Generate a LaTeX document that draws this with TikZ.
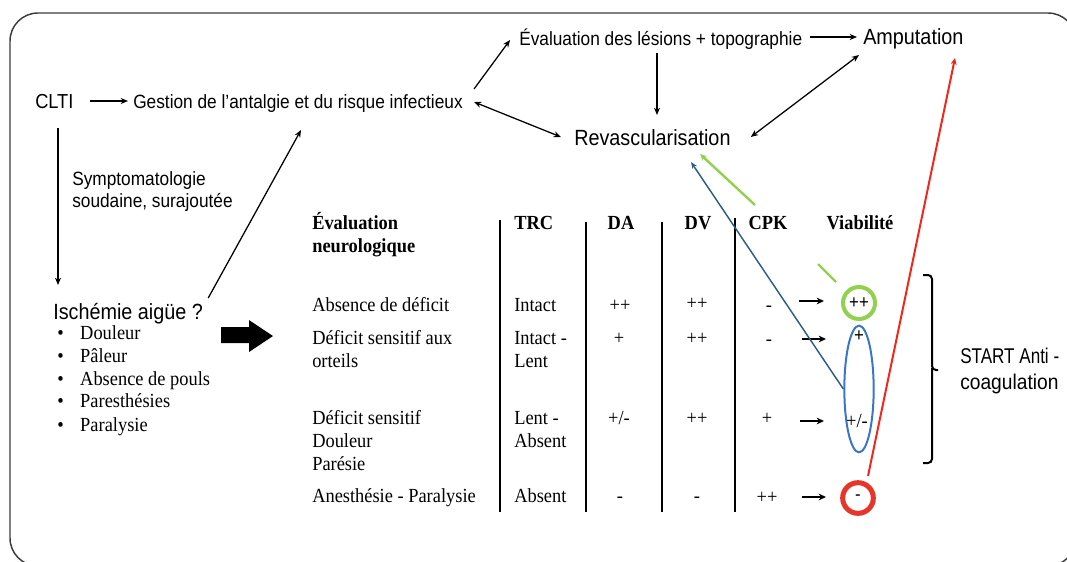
\documentclass[tikz,border=0pt]{standalone}
\usepackage{fontspec}
\setmainfont[FakeStretch=0.92]{Liberation Serif}
\newfontfamily\sansf[FakeStretch=0.9]{Liberation Sans}
\newfontfamily\sansn[FakeStretch=0.8]{Liberation Sans}
\usetikzlibrary{arrows.meta,calc,shapes.geometric}
\definecolor{vgreen}{HTML}{92D050}
\definecolor{vblue}{HTML}{3A76C4}
\definecolor{dblue}{HTML}{2F5D85}
\definecolor{vred}{HTML}{E8352A}
\definecolor{lred}{HTML}{F0281C}
\definecolor{framec}{HTML}{3C3C3C}
\begin{document}
\begin{tikzpicture}[x=0.75pt,y=-0.75pt,
 sa/.style={font=\sansf\fontsize{14.4}{17}\selectfont,inner sep=0pt,anchor=base west},
 sb/.style={font=\sansf\fontsize{16.5}{20}\selectfont,inner sep=0pt,anchor=base west},
 se/.style={font=\fontsize{15}{17}\selectfont,inner sep=0pt,anchor=base west},
 sc/.style={font=\fontsize{15}{17}\selectfont,inner sep=0pt,anchor=base},
 hd/.style={font=\bfseries\fontsize{15}{17}\selectfont,inner sep=0pt,anchor=base west},
 hc/.style={font=\bfseries\fontsize{15}{17}\selectfont,inner sep=0pt,anchor=base},
 arr/.style={line width=0.95pt,-{Stealth[length=5.5pt,width=4.5pt]}},
 darr/.style={line width=0.95pt,{Stealth[length=5.5pt,width=4.5pt]}-{Stealth[length=5.5pt,width=4.5pt]}},
 rarr/.style={line width=1.4pt,-{Stealth[length=5.5pt,width=5pt]}},
 sepl/.style={line width=1.5pt},
 inner/.style={font=\sansf\fontsize{14}{15}\selectfont,inner sep=0pt},
]
\useasboundingbox (0,0) rectangle (1067,561);
\begin{scope}
\clip (0,0) rectangle (1067,561);
\draw[framec,line width=1.1pt,rounded corners=21pt] (10,13) rectangle (1076,566);
\end{scope}

% flow texts
\node[sa,font=\sansf\fontsize{15.2}{17}\selectfont] (clti) at (35,108) {CLTI};
\node[sa] (gest) at (133,108) {Gestion de l’antalgie et du risque infectieux};
\node[sa] (evl) at (519,45) {Évaluation des lésions + topographie};
\node[sb] (amp) at (863,44) {Amputation};
\node[sb] (rev) at (574,145) {Revascularisation};
\node[sa] (symp1) at (72,185) {Symptomatologie};
\node[sa] (symp2) at (72,207) {soudaine, surajoutée};
\node[sb] (isch) at (53,319) {Ischémie aigüe ?};
\node[se] (b1) at (57,339) {\makebox[17.25pt][l]{•}Douleur};
\node[se] (b2) at (57,362) {\makebox[17.25pt][l]{•}Pâleur};
\node[se] (b3) at (57,385) {\makebox[17.25pt][l]{•}Absence de pouls};
\node[se] (b4) at (57,407) {\makebox[17.25pt][l]{•}Paresthésies};
\node[se] (b5) at (57,431) {\makebox[17.25pt][l]{•}Paralysie};

% big arrow
\fill (221,327) -- (249,327) -- (249,320) -- (273,336) -- (249,352) -- (249,343) -- (221,343) -- cycle;

% table header
\node[hd] (h1) at (312,229) {Évaluation};
\node[hd] (h2) at (312,252) {neurologique};
\node[hd] (htrc) at (514,229) {TRC};
\node[hc] (hda) at (621,229) {DA};
\node[hc] (hdv) at (698,229) {DV};
\node[hc] (hcpk) at (768,229) {CPK};
\node[hc] (hvia) at (860,229) {Viabilité};

% row 1
\node[se] (n1) at (312,311) {Absence de déficit};
\node[se] (t1) at (514,311) {Intact};
\node[sc] (da1) at (620,311) {++};
\node[sc] (dv1) at (697,309) {++};
\node[sc] (ck1) at (769,311) {-};
% row 2
\node[se] (n2a) at (312,344) {Déficit sensitif aux};
\node[se] (n2b) at (312,367) {orteils};
\node[se] (t2a) at (514,344) {Intact -};
\node[se] (t2b) at (514,367) {Lent};
\node[sc] (da2) at (619,344) {+};
\node[sc] (dv2) at (697,344) {++};
\node[sc] (ck2) at (769,345) {-};
% row 3
\node[se] (n3a) at (312,424) {Déficit sensitif};
\node[se] (n3b) at (312,447) {Douleur};
\node[se] (n3c) at (312,470) {Parésie};
\node[se] (t3a) at (514,424) {Lent -};
\node[se] (t3b) at (514,447) {Absent};
\node[sc] (da3) at (619,424) {+/-};
\node[sc] (dv3) at (697,424) {++};
\node[sc] (ck3) at (767,424) {+};
% row 4
\node[se] (n4) at (312,502) {Anesthésie - Paralysie};
\node[se] (t4) at (514,502) {Absent};
\node[sc] (da4) at (620,502) {-};
\node[sc] (dv4) at (697,502) {-};
\node[sc] (ck4) at (767,503) {++};

% separators
\draw[sepl] (500,220) -- (500,512);
\draw[sepl] (586,222) -- (586,512);
\draw[sepl] (662,222) -- (662,512);
\draw[sepl] (735,218) -- (735,512);

% viability marks
\node[circle,draw=vgreen,line width=3pt,minimum size=24pt,inner sep=0pt,inner] (vg) at (859,303) {++};
\node[ellipse,draw=vblue,line width=1.5pt,minimum width=22pt,minimum height=95pt,inner sep=0pt] (vb) at (859,389) {};
\node[inner] (vb1) at (859,336) {+};
\node[font=\fontsize{15}{17}\selectfont,inner sep=0pt] (vb2) at (857,421) {+/-};
\node[circle,draw=vred,line width=3.75pt,minimum size=23pt,inner sep=0pt,inner] (vr) at (858,498) {-};

% row arrows
\draw[rarr] ($(vg)+(-60,-2)$) -- ($(vg)+(-35,-2)$);
\draw[rarr] ($(vb1)+(-57,3)$) -- ($(vb1)+(-33,3)$);
\draw[rarr] ($(vb2)+(-57,0)$) -- ($(vb2)+(-33,0)$);
\draw[rarr] ($(vr)+(-56,-1)$) -- ($(vr)+(-32,-1)$);

% brace
\draw[line width=1.5pt,rounded corners=3pt] (923,275) -- (932,275) -- (932,370) -- (938,370);
\draw[line width=1.5pt,rounded corners=3pt] (932,368) -- (932,463) -- (923,463);
\node[sb,font=\sansn\fontsize{16}{20}\selectfont] (st1) at (960,363) {START Anti -};
\node[sb,font=\sansf\fontsize{16}{20}\selectfont] (st2) at (960,389) {coagulation};

% black connectors
\draw[arr] ($(clti.base east)+(16,-7)$) -- ($(gest.base west)+(-5,-7)$);
\draw[arr] ($(gest.base east)+(11,-19)$) -- ($(evl.base west)+(-9,-5)$);
\draw[arr] ($(evl.base east)+(8,-8)$) -- ($(amp.base west)+(-6,-7)$);
\draw[arr] ($(evl.base west)+(138,8)$) -- ($(rev.base west)+(83,-30)$);
\draw[darr] ($(gest.base east)+(11,-6)$) -- ($(rev.base west)+(-13,-8)$);
\draw[darr] ($(rev.base east)+(20,-8)$) -- ($(amp.base west)+(-4,11)$);
\draw[arr] ($(isch.base east)+(5,-21)$) -- ($(gest.base west)+(168,22)$);
\draw[arr] ($(clti.base west)+(23,20)$) -- ($(isch.base west)+(5,-34)$);

% coloured connectors
\draw[dblue,line width=1.1pt,-{Stealth[length=5pt,width=4pt]}] (vb.west) -- ($(rev.base west)+(117,17)$);
\draw[vgreen,line width=1.8pt] ($(vg)+(-23,-21)$) -- ($(vg)+(-41,-39)$);
\draw[vgreen,line width=1.8pt,-{Stealth[length=5pt,width=4.5pt]}] ($(rev.base west)+(181,60)$) -- ($(rev.base west)+(126,9)$);
\draw[lred,line width=1.5pt,-{Stealth[length=5pt,width=4.5pt]}] ($(vr)+(10,-22)$) -- ($(amp.base west)+(92,14)$);
\end{tikzpicture}
\end{document}
